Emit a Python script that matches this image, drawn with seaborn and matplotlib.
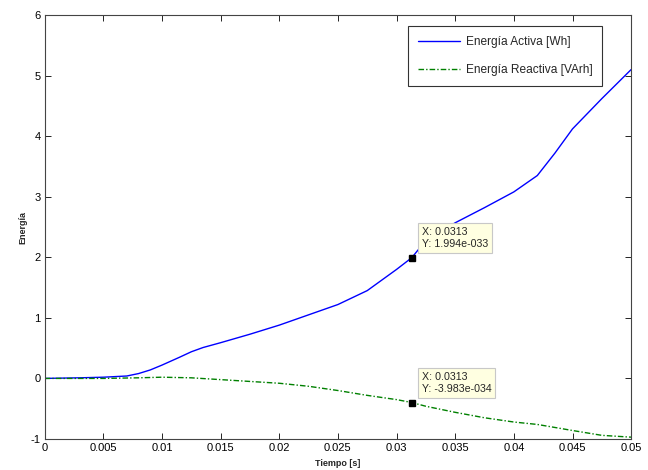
import numpy as np
import pandas as pd
import matplotlib
matplotlib.use("Agg")
import matplotlib.pyplot as plt
import seaborn as sns

# Data
t_activa = [0.0, 0.003, 0.005, 0.007, 0.008, 0.009, 0.010, 0.0115, 0.0125, 0.0135, 0.015, 0.0175,
            0.020, 0.0225, 0.025, 0.0275, 0.030, 0.0313, 0.0325, 0.035, 0.0375, 0.040,
            0.042, 0.0435, 0.045, 0.0475, 0.050]
e_activa = [0.0, 0.01, 0.02, 0.04, 0.08, 0.14, 0.22, 0.35, 0.44, 0.51, 0.59, 0.73,
            0.88, 1.05, 1.22, 1.45, 1.80, 1.994, 2.28, 2.57, 2.82, 3.08,
            3.35, 3.72, 4.12, 4.62, 5.10]
t_reactiva = [0.0, 0.005, 0.008, 0.010, 0.0125, 0.015, 0.0175, 0.020, 0.0225, 0.025, 0.0275,
              0.030, 0.0313, 0.0325, 0.035, 0.0375, 0.040, 0.042, 0.045, 0.0475, 0.050]
e_reactiva = [0.0, 0.0, 0.01, 0.02, 0.01, -0.02, -0.05, -0.08, -0.13, -0.20, -0.28,
              -0.35, -0.398, -0.46, -0.56, -0.65, -0.72, -0.76, -0.86, -0.94, -0.97]
series_names = ["Energía Activa [Wh]", "Energía Reactiva [VArh]"]
tip_x = [0.0313, 0.0313]
tip_y = [1.994, -0.398]
tip_texts = ["X: 0.0313\nY: 1.994e-033", "X: 0.0313\nY: -3.983e-034"]
x_ticks = [0, 0.005, 0.01, 0.015, 0.02, 0.025, 0.03, 0.035, 0.04, 0.045, 0.05]
x_tick_labels = ["0", "0.005", "0.01", "0.015", "0.02", "0.025", "0.03", "0.035", "0.04", "0.045", "0.05"]
y_ticks = [-1, 0, 1, 2, 3, 4, 5, 6]
y_tick_labels = ["-1", "0", "1", "2", "3", "4", "5", "6"]

sns.set_style("ticks")
plt.rcParams['font.family'] = ['Liberation Sans', 'DejaVu Sans']
plt.rcParams['axes.unicode_minus'] = False

fig = plt.figure(figsize=(6.48, 4.70), dpi=100)
ax = fig.add_axes([0.069, 0.066, 0.905, 0.902])

df_a = pd.DataFrame({"t": t_activa, "e": e_activa})
df_r = pd.DataFrame({"t": t_reactiva, "e": e_reactiva})
sns.lineplot(data=df_a, x="t", y="e", ax=ax, color="#0000ff", linewidth=1.0,
             label=series_names[0])
sns.lineplot(data=df_r, x="t", y="e", ax=ax, color="#008000", linewidth=1.0,
             linestyle=(0, (4, 1.5, 1, 1.5)), label=series_names[1])

ax.set_xlim(0, 0.05)
ax.set_ylim(-1, 6)
ax.set_xticks(x_ticks)
ax.set_xticklabels(x_tick_labels)
ax.set_yticks(y_ticks)
ax.set_yticklabels(y_tick_labels)
ax.tick_params(direction="in", length=4, width=0.6, labelsize=8, top=True, right=True,
               colors="black", pad=3)
for s in ax.spines.values():
    s.set_visible(True)
    s.set_color("#444444")
    s.set_linewidth(0.8)

ax.set_xlabel("Tiempo [s]", fontsize=6.5, fontweight="bold", labelpad=4)
ax.set_ylabel("Energía", fontsize=6.5, fontweight="bold", labelpad=2)

leg = ax.legend(loc="upper right", bbox_to_anchor=(0.951, 0.974), borderaxespad=0,
                fontsize=8.6, frameon=True, fancybox=False, edgecolor="black",
                labelspacing=1.35, borderpad=0.85, handlelength=3.5, handletextpad=0.5)
leg.get_frame().set_linewidth(0.8)

# Data tips
for x, y, txt in zip(tip_x, tip_y, tip_texts):
    ax.plot([x], [y], marker="s", color="black", markersize=5, zorder=5)
    ax.annotate(txt, xy=(x, y), xytext=(7, 6), textcoords="offset points",
                fontsize=7.7, va="bottom", ha="left", linespacing=1.3,
                bbox=dict(boxstyle="square,pad=0.35", facecolor="#ffffe1",
                          edgecolor="#c8c8c8", linewidth=0.8), zorder=6)

fig.savefig("out.png", dpi=100, facecolor="white")
